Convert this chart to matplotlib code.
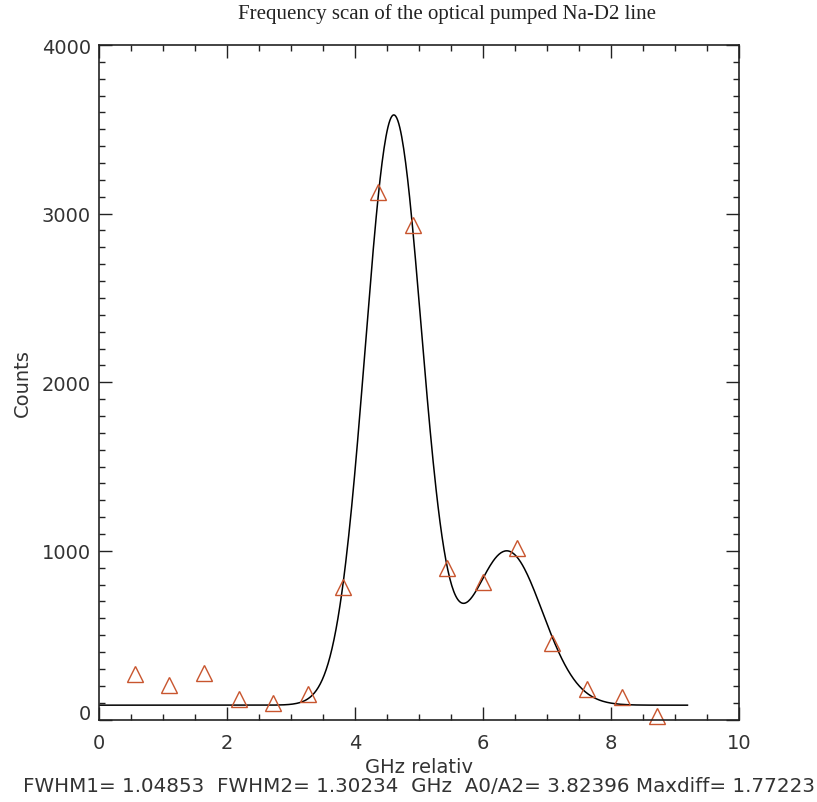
"""
Frequency scan of the optical pumped Na-D2 line, with double gaussian fit
"""
import numpy as np
import matplotlib
matplotlib.use("Agg")
import matplotlib.pyplot as plt
from matplotlib.ticker import MultipleLocator, FuncFormatter

# measured counts (triangles)
freq = [0.55, 1.09, 1.63, 2.18, 2.72, 3.26, 3.81, 4.35,
        4.90, 5.44, 5.99, 6.53, 7.07, 7.62, 8.16, 8.71]
counts = [272, 206, 276, 122, 100, 151, 786, 3127,
          2935, 898, 813, 1015, 454, 179, 132, 19]

# fit parameters (two gaussians on a flat background)
fwhm1 = 1.04853
fwhm2 = 1.30234
center1 = 4.60
center2 = 6.37
amp2 = 914.0
amp_ratio = 3.82396
background = 85.0
fit_range = [0.0, 9.19]

footer = "FWHM1= 1.04853  FWHM2= 1.30234  GHz  A0/A2= 3.82396 Maxdiff= 1.77223"
txt_col = "#333333"


def gauss(x, amp, cen, fwhm):
    sig = fwhm / (2.0 * np.sqrt(2.0 * np.log(2.0)))
    return amp * np.exp(-0.5 * ((x - cen) / sig) ** 2)


xfit = np.linspace(fit_range[0], fit_range[1], 600)
yfit = (background + gauss(xfit, amp2 * amp_ratio, center1, fwhm1)
        + gauss(xfit, amp2, center2, fwhm2))

fig = plt.figure(figsize=(8.17, 8.03), dpi=100)
ax = fig.add_axes([99.3 / 817, 1 - 720.5 / 803, 640 / 817, 674.5 / 803])

ax.plot(xfit, yfit, color="black", lw=1.1)
ax.plot(freq, counts, linestyle="none", marker="^", markersize=12,
        markerfacecolor="none", markeredgecolor="#c8552e", markeredgewidth=1.0,
        clip_on=False)

ax.set_xlim(0, 10)
ax.set_ylim(0, 4000)
ax.xaxis.set_major_locator(MultipleLocator(2))
ax.xaxis.set_minor_locator(MultipleLocator(0.5))
ax.yaxis.set_major_locator(MultipleLocator(1000))
ax.yaxis.set_minor_locator(MultipleLocator(100))
# the 0 on the y axis is drawn separately, a bit higher (as IDL does)
ax.yaxis.set_major_formatter(FuncFormatter(lambda v, p: "" if v == 0 else "%d" % v))
ax.tick_params(which="both", direction="in", top=True, right=True,
               labelsize=14, color="#222222", width=1.0, labelcolor=txt_col)
ax.tick_params(which="major", length=9.5)
ax.tick_params(which="minor", length=4.5)
ax.tick_params(axis="x", pad=10)
ax.tick_params(axis="y", pad=6)
for sp in ax.spines.values():
    sp.set_linewidth(1.2)
    sp.set_color("#222222")

ax.annotate("0", xy=(0, 0), xycoords=("axes fraction", "data"),
            xytext=(-6, 4), textcoords="offset points", ha="right", va="center",
            fontsize=14, color=txt_col)

ax.set_ylabel("Counts", fontsize=14, labelpad=7, color=txt_col)
fig.text(419 / 817, 1 - 768 / 803, "GHz relativ", ha="center", va="center",
         fontsize=14, color=txt_col)
fig.text(419 / 817, 1 - 787 / 803, footer, ha="center", va="center",
         fontsize=14.3, color=txt_col)
fig.text(447 / 817, 1 - 14 / 803, "Frequency scan of the optical pumped Na-D2 line",
         ha="center", va="center", fontsize=15, family="Liberation Serif",
         color="#222222")

fig.savefig("out.png", dpi=100)
